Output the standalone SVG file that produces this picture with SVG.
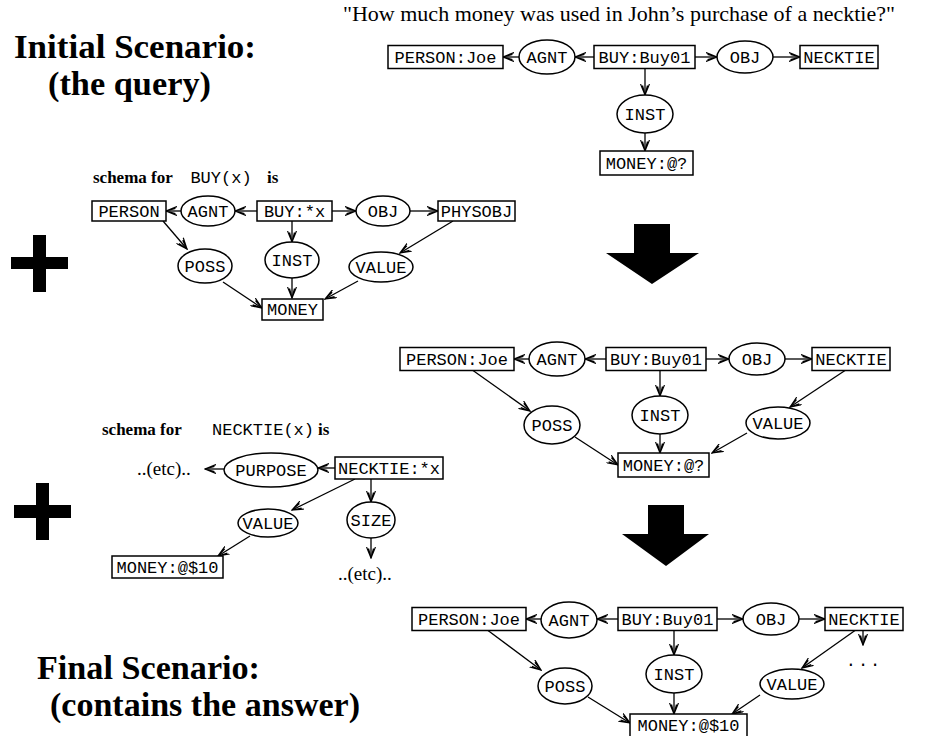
<svg xmlns="http://www.w3.org/2000/svg" width="945" height="736" viewBox="0 0 945 736">
<style>
.box{fill:#fff;stroke:#000;stroke-width:1.5}
.rel{fill:#fff;stroke:#000;stroke-width:1.5}
.m{font-family:"Liberation Mono","DejaVu Sans Mono",monospace;font-size:17px;text-anchor:middle;fill:#000}
.s{font-family:"Liberation Serif","DejaVu Serif",serif;fill:#000}
.b{font-family:"Liberation Serif","DejaVu Serif",serif;font-weight:bold;fill:#000}
.e{stroke:#000;stroke-width:1.3;fill:none;marker-end:url(#ah)}
.big{fill:#000}
</style>
<defs>
<marker id="ah" viewBox="0 0 12 10" refX="11" refY="5" markerWidth="12" markerHeight="10" markerUnits="userSpaceOnUse" orient="auto">
<path d="M0,0.5 L11,5 L0,9.5 M1.5,2.5 L11,5 L1.5,7.5" fill="none" stroke="#000" stroke-width="1.2"/>
</marker>
</defs>
<rect width="945" height="736" fill="#fff"/>

<g id="labels">
<text class="b" x="14" y="58" font-size="33" textLength="242" lengthAdjust="spacingAndGlyphs">Initial Scenario:</text>
<text class="b" x="48" y="95" font-size="33" textLength="163" lengthAdjust="spacingAndGlyphs">(the query)</text>
<text class="s" x="343" y="21" font-size="22">"How much money was used in John’s purchase of a necktie?"</text>
<text class="b" x="37" y="679" font-size="33" textLength="223" lengthAdjust="spacingAndGlyphs">Final Scenario:</text>
<text class="b" x="50" y="716" font-size="33" textLength="310" lengthAdjust="spacingAndGlyphs">(contains the answer)</text>
</g>

<g id="plus1"><rect class="big" x="33" y="235" width="13" height="57"/><rect class="big" x="11" y="257" width="57" height="12"/></g>
<g id="plus2"><rect class="big" x="36" y="483" width="13" height="57"/><rect class="big" x="14" y="505" width="57" height="13"/></g>
<g id="bigarrow1"><polygon class="big" points="634,224 670,224 670,253 699,253 652,284 606,253 634,253"/></g>
<g id="bigarrow2"><polygon class="big" points="648,505 684,505 684,534 709,534 666,566 622,534 648,534"/></g>

<g id="connectors">
<!-- graph 1 -->
<line class="e" x1="519" y1="57" x2="503" y2="57"/>
<line class="e" x1="594" y1="57" x2="575" y2="57"/>
<line class="e" x1="695" y1="57" x2="717" y2="57"/>
<line class="e" x1="773" y1="57" x2="800" y2="57"/>
<line class="e" x1="645" y1="68.5" x2="645" y2="95"/>
<line class="e" x1="645" y1="133" x2="645" y2="151"/>
<!-- schema BUY -->
<line class="e" x1="181" y1="211" x2="166" y2="211"/>
<line class="e" x1="257" y1="211" x2="235" y2="211"/>
<line class="e" x1="332" y1="211" x2="356" y2="211"/>
<line class="e" x1="410" y1="211" x2="438" y2="211"/>
<line class="e" x1="292" y1="221" x2="292" y2="242"/>
<line class="e" x1="163" y1="221" x2="187" y2="249"/>
<line class="e" x1="453" y1="221" x2="400" y2="253"/>
<line class="e" x1="223" y1="282" x2="262" y2="308"/>
<line class="e" x1="292" y1="278" x2="292" y2="298"/>
<line class="e" x1="358" y1="281" x2="325" y2="299"/>
<!-- graph 2 -->
<line class="e" x1="529" y1="359" x2="514" y2="359"/>
<line class="e" x1="606" y1="359" x2="585" y2="359"/>
<line class="e" x1="706" y1="359" x2="729" y2="359"/>
<line class="e" x1="785" y1="359" x2="812" y2="359"/>
<line class="e" x1="660" y1="370.5" x2="660" y2="396"/>
<line class="e" x1="660" y1="434" x2="660" y2="453"/>
<line class="e" x1="473" y1="370.5" x2="530" y2="411"/>
<line class="e" x1="575" y1="437" x2="618" y2="465"/>
<line class="e" x1="747" y1="433" x2="712" y2="453"/>
<line class="e" x1="845" y1="370.5" x2="790" y2="407"/>
<!-- schema NECKTIE -->
<line class="e" x1="224" y1="469" x2="205" y2="469"/>
<line class="e" x1="335" y1="468" x2="318" y2="468"/>
<line class="e" x1="355" y1="479" x2="292" y2="510"/>
<line class="e" x1="371" y1="479" x2="371" y2="502"/>
<line class="e" x1="250" y1="536" x2="218" y2="556"/>
<line class="e" x1="371" y1="538" x2="371" y2="558"/>
<!-- graph 3 -->
<line class="e" x1="541" y1="619" x2="526" y2="619"/>
<line class="e" x1="618" y1="619" x2="597" y2="619"/>
<line class="e" x1="717" y1="619" x2="743" y2="619"/>
<line class="e" x1="799" y1="619" x2="825" y2="619"/>
<line class="e" x1="674" y1="630.5" x2="674" y2="655"/>
<line class="e" x1="674" y1="693" x2="674" y2="714"/>
<line class="e" x1="488" y1="630.5" x2="541" y2="670"/>
<line class="e" x1="588" y1="697" x2="630" y2="723"/>
<line class="e" x1="760" y1="695" x2="732" y2="714"/>
<line class="e" x1="855" y1="630.5" x2="802" y2="668"/>
<line class="e" x1="863" y1="630.5" x2="863" y2="645"/>
</g>

<!-- graph 1 nodes -->
<g id="g1-person"><rect class="box" x="388" y="45.5" width="115" height="23"/><text class="m" x="445.5" y="63">PERSON:Joe</text></g>
<g id="g1-agnt"><ellipse class="rel" cx="547" cy="57" rx="28" ry="17"/><text class="m" x="547" y="63">AGNT</text></g>
<g id="g1-buy"><rect class="box" x="594" y="45.5" width="101" height="23"/><text class="m" x="644.5" y="63">BUY:Buy01</text></g>
<g id="g1-obj"><ellipse class="rel" cx="745" cy="57" rx="28" ry="16"/><text class="m" x="745" y="63">OBJ</text></g>
<g id="g1-necktie"><rect class="box" x="800" y="45.5" width="78" height="23"/><text class="m" x="839" y="63">NECKTIE</text></g>
<g id="g1-inst"><ellipse class="rel" cx="645" cy="114" rx="28" ry="19"/><text class="m" x="645" y="120">INST</text></g>
<g id="g1-money"><rect class="box" x="600" y="151" width="93" height="24"/><text class="m" x="646.5" y="169">MONEY:@?</text></g>

<!-- schema BUY -->
<g id="s1-title"><text class="b" x="93" y="183" font-size="17">schema for</text><text class="m" x="221" y="183" font-size="15">BUY(x)</text><text class="b" x="267" y="183" font-size="17">is</text></g>
<g id="s1-person"><rect class="box" x="92" y="201" width="74" height="20"/><text class="m" x="129" y="217">PERSON</text></g>
<g id="s1-agnt"><ellipse class="rel" cx="208" cy="211" rx="27" ry="15"/><text class="m" x="208" y="217">AGNT</text></g>
<g id="s1-buy"><rect class="box" x="257" y="201" width="75" height="20"/><text class="m" x="294.5" y="217">BUY:*x</text></g>
<g id="s1-obj"><ellipse class="rel" cx="383" cy="211" rx="27" ry="15"/><text class="m" x="383" y="217">OBJ</text></g>
<g id="s1-physobj"><rect class="box" x="438" y="201" width="77" height="20"/><text class="m" x="476.5" y="217">PHYSOBJ</text></g>
<g id="s1-poss"><ellipse class="rel" cx="205" cy="266" rx="27" ry="17"/><text class="m" x="205" y="272">POSS</text></g>
<g id="s1-inst"><ellipse class="rel" cx="292" cy="260" rx="27" ry="18"/><text class="m" x="292" y="266">INST</text></g>
<g id="s1-value"><ellipse class="rel" cx="381" cy="267" rx="32" ry="15"/><text class="m" x="381" y="273">VALUE</text></g>
<g id="s1-money"><rect class="box" x="262" y="299" width="61" height="21"/><text class="m" x="292.5" y="315">MONEY</text></g>

<!-- graph 2 -->
<g id="g2-person"><rect class="box" x="400" y="347.5" width="114" height="23"/><text class="m" x="457" y="365">PERSON:Joe</text></g>
<g id="g2-agnt"><ellipse class="rel" cx="557" cy="359" rx="28" ry="17"/><text class="m" x="557" y="365">AGNT</text></g>
<g id="g2-buy"><rect class="box" x="606" y="347.5" width="100" height="23"/><text class="m" x="656" y="365">BUY:Buy01</text></g>
<g id="g2-obj"><ellipse class="rel" cx="757" cy="359" rx="28" ry="16"/><text class="m" x="757" y="365">OBJ</text></g>
<g id="g2-necktie"><rect class="box" x="812" y="347.5" width="78" height="23"/><text class="m" x="851" y="365">NECKTIE</text></g>
<g id="g2-inst"><ellipse class="rel" cx="660" cy="415" rx="28" ry="19"/><text class="m" x="660" y="421">INST</text></g>
<g id="g2-poss"><ellipse class="rel" cx="552" cy="425" rx="28" ry="19"/><text class="m" x="552" y="431">POSS</text></g>
<g id="g2-value"><ellipse class="rel" cx="778" cy="423" rx="32" ry="16"/><text class="m" x="778" y="429">VALUE</text></g>
<g id="g2-money"><rect class="box" x="618" y="453" width="91" height="24"/><text class="m" x="663.5" y="471">MONEY:@?</text></g>

<!-- schema NECKTIE -->
<g id="s2-title"><text class="b" x="102" y="435" font-size="17">schema for</text><text class="m" x="263" y="435" font-size="15">NECKTIE(x)</text><text class="b" x="318" y="435" font-size="17">is</text></g>
<g id="s2-etc1"><text class="s" x="137" y="475" font-size="19">..(etc)..</text></g>
<g id="s2-purpose"><ellipse class="rel" cx="271" cy="470" rx="47" ry="17"/><text class="m" x="271" y="476">PURPOSE</text></g>
<g id="s2-necktie"><rect class="box" x="335" y="457" width="108" height="22"/><text class="m" x="389" y="474">NECKTIE:*x</text></g>
<g id="s2-value"><ellipse class="rel" cx="268" cy="523" rx="30" ry="14"/><text class="m" x="268" y="529">VALUE</text></g>
<g id="s2-size"><ellipse class="rel" cx="371" cy="520" rx="24" ry="18"/><text class="m" x="371" y="526">SIZE</text></g>
<g id="s2-money"><rect class="box" x="112" y="556" width="111" height="22"/><text class="m" x="167.5" y="573">MONEY:@$10</text></g>
<g id="s2-etc2"><text class="s" x="338" y="580" font-size="19">..(etc)..</text></g>

<!-- graph 3 -->
<g id="g3-person"><rect class="box" x="412" y="607.5" width="114" height="23"/><text class="m" x="469" y="625">PERSON:Joe</text></g>
<g id="g3-agnt"><ellipse class="rel" cx="569" cy="620" rx="28" ry="18"/><text class="m" x="569" y="626">AGNT</text></g>
<g id="g3-buy"><rect class="box" x="618" y="607.5" width="99" height="23"/><text class="m" x="667.5" y="625">BUY:Buy01</text></g>
<g id="g3-obj"><ellipse class="rel" cx="771" cy="619" rx="28" ry="16"/><text class="m" x="771" y="625">OBJ</text></g>
<g id="g3-necktie"><rect class="box" x="825" y="607.5" width="78" height="23"/><text class="m" x="864" y="625">NECKTIE</text></g>
<g id="g3-inst"><ellipse class="rel" cx="674" cy="674" rx="28" ry="19"/><text class="m" x="674" y="680">INST</text></g>
<g id="g3-poss"><ellipse class="rel" cx="565" cy="686" rx="27" ry="18"/><text class="m" x="565" y="692">POSS</text></g>
<g id="g3-value"><ellipse class="rel" cx="792" cy="684" rx="32" ry="15"/><text class="m" x="792" y="690">VALUE</text></g>
<g id="g3-money"><rect class="box" x="630" y="714" width="117" height="23"/><text class="m" x="688.5" y="731">MONEY:@$10</text></g>
<g id="g3-dots"><text class="m" x="864" y="666" letter-spacing="2">...</text></g>
</svg>
